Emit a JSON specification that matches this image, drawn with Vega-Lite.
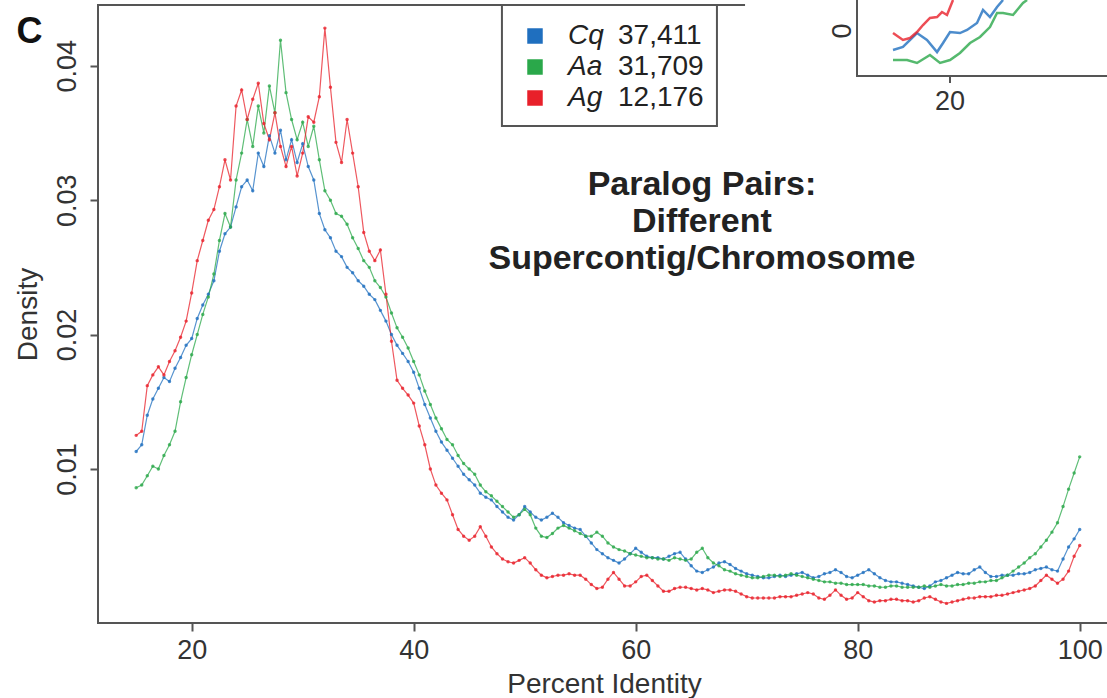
{
"$schema":"https://vega.github.io/schema/vega-lite/v6.json",
"width":1012,"height":618,
"autosize":{"type":"none"},
"padding":{"left":98,"top":5,"right":0,"bottom":75},
"background":"white",
"config":{"view":{"stroke":"#555","strokeWidth":2},"font":"Liberation Sans",
"axis":{"domain":false,"grid":false,"tickColor":"#555","tickWidth":2,"tickSize":8,"labelFont":"Liberation Sans","titleFont":"Liberation Sans","labelFontSize":27,"titleFontSize":28,"labelColor":"#333","titleColor":"#333","titleFontWeight":"normal","labelFlush":false,"labelOverlap":false}},
"datasets":{
"main":[
{"x":15,"Cq":0.0113,"Aa":0.0086,"Ag":0.0125},{"x":15.5,"Cq":0.0118,"Aa":0.0088,"Ag":0.0128},{"x":16,"Cq":0.0140,"Aa":0.0095,"Ag":0.0162},{"x":16.5,"Cq":0.0152,"Aa":0.0102,"Ag":0.0170},{"x":17,"Cq":0.0160,"Aa":0.0100,"Ag":0.0176},{"x":17.5,"Cq":0.0168,"Aa":0.0110,"Ag":0.0170},{"x":18,"Cq":0.0165,"Aa":0.0118,"Ag":0.0180},{"x":18.5,"Cq":0.0175,"Aa":0.0128,"Ag":0.0188},{"x":19,"Cq":0.0183,"Aa":0.0150,"Ag":0.0198},{"x":19.5,"Cq":0.0192,"Aa":0.0168,"Ag":0.0210},
{"x":20,"Cq":0.0197,"Aa":0.0185,"Ag":0.0231},{"x":20.5,"Cq":0.0212,"Aa":0.0200,"Ag":0.0255},{"x":21,"Cq":0.0222,"Aa":0.0215,"Ag":0.0270},{"x":21.5,"Cq":0.0230,"Aa":0.0228,"Ag":0.0285},{"x":22,"Cq":0.0240,"Aa":0.0245,"Ag":0.0293},{"x":22.5,"Cq":0.0262,"Aa":0.0270,"Ag":0.0310},{"x":23,"Cq":0.0275,"Aa":0.0290,"Ag":0.0330},{"x":23.5,"Cq":0.0280,"Aa":0.0280,"Ag":0.0315},{"x":24,"Cq":0.0295,"Aa":0.0315,"Ag":0.0370},{"x":24.5,"Cq":0.0310,"Aa":0.0335,"Ag":0.0382},
{"x":25,"Cq":0.0315,"Aa":0.0360,"Ag":0.0360},{"x":25.5,"Cq":0.0307,"Aa":0.0340,"Ag":0.0375},{"x":26,"Cq":0.0335,"Aa":0.0370,"Ag":0.0387},{"x":26.5,"Cq":0.0325,"Aa":0.0350,"Ag":0.0357},{"x":27,"Cq":0.0348,"Aa":0.0385,"Ag":0.0345},{"x":27.5,"Cq":0.0335,"Aa":0.0365,"Ag":0.0365},{"x":28,"Cq":0.0352,"Aa":0.0419,"Ag":0.0340},{"x":28.5,"Cq":0.0330,"Aa":0.0380,"Ag":0.0325},{"x":29,"Cq":0.0345,"Aa":0.0360,"Ag":0.0340},{"x":29.5,"Cq":0.0328,"Aa":0.0345,"Ag":0.0318},
{"x":30,"Cq":0.0342,"Aa":0.0358,"Ag":0.0335},{"x":30.5,"Cq":0.0325,"Aa":0.0340,"Ag":0.0362},{"x":31,"Cq":0.0315,"Aa":0.0355,"Ag":0.0358},{"x":31.5,"Cq":0.0290,"Aa":0.0330,"Ag":0.0377},{"x":32,"Cq":0.0278,"Aa":0.0307,"Ag":0.0428},{"x":32.5,"Cq":0.0272,"Aa":0.0300,"Ag":0.0384},{"x":33,"Cq":0.0262,"Aa":0.0290,"Ag":0.0343},{"x":33.5,"Cq":0.0258,"Aa":0.0288,"Ag":0.0328},{"x":34,"Cq":0.0250,"Aa":0.0282,"Ag":0.0360},{"x":34.5,"Cq":0.0246,"Aa":0.0272,"Ag":0.0335},
{"x":35,"Cq":0.0240,"Aa":0.0264,"Ag":0.0310},{"x":35.5,"Cq":0.0236,"Aa":0.0255,"Ag":0.0276},{"x":36,"Cq":0.0230,"Aa":0.0250,"Ag":0.0262},{"x":36.5,"Cq":0.0226,"Aa":0.0240,"Ag":0.0255},{"x":37,"Cq":0.0218,"Aa":0.0235,"Ag":0.0263},{"x":37.5,"Cq":0.0210,"Aa":0.0228,"Ag":0.0230},{"x":38,"Cq":0.0200,"Aa":0.0216,"Ag":0.0195},{"x":38.5,"Cq":0.0192,"Aa":0.0205,"Ag":0.0166},{"x":39,"Cq":0.0186,"Aa":0.0198,"Ag":0.0160},{"x":39.5,"Cq":0.0180,"Aa":0.0190,"Ag":0.0155},
{"x":40,"Cq":0.0172,"Aa":0.0180,"Ag":0.0149},{"x":40.5,"Cq":0.0160,"Aa":0.0170,"Ag":0.0132},{"x":41,"Cq":0.0148,"Aa":0.0158,"Ag":0.0118},{"x":41.5,"Cq":0.0138,"Aa":0.0148,"Ag":0.0100},{"x":42,"Cq":0.0128,"Aa":0.0138,"Ag":0.0088},{"x":42.5,"Cq":0.0120,"Aa":0.0130,"Ag":0.0082},{"x":43,"Cq":0.0114,"Aa":0.0122,"Ag":0.0077},{"x":43.5,"Cq":0.0108,"Aa":0.0118,"Ag":0.0066},{"x":44,"Cq":0.0102,"Aa":0.0110,"Ag":0.0055},{"x":44.5,"Cq":0.0096,"Aa":0.0104,"Ag":0.0050},
{"x":45,"Cq":0.0092,"Aa":0.0100,"Ag":0.0047},{"x":45.5,"Cq":0.0088,"Aa":0.0096,"Ag":0.0050},{"x":46,"Cq":0.0082,"Aa":0.0088,"Ag":0.0057},{"x":46.5,"Cq":0.0079,"Aa":0.0083,"Ag":0.0050},{"x":47,"Cq":0.0077,"Aa":0.0080,"Ag":0.0042},{"x":47.5,"Cq":0.0072,"Aa":0.0076,"Ag":0.0037},{"x":48,"Cq":0.0068,"Aa":0.0072,"Ag":0.0033},{"x":48.5,"Cq":0.0064,"Aa":0.0068,"Ag":0.0031},{"x":49,"Cq":0.0062,"Aa":0.0064,"Ag":0.0030},{"x":49.5,"Cq":0.0066,"Aa":0.0066,"Ag":0.0032},
{"x":50,"Cq":0.0072,"Aa":0.0070,"Ag":0.0034},{"x":50.5,"Cq":0.0068,"Aa":0.0066,"Ag":0.0030},{"x":51,"Cq":0.0064,"Aa":0.0056,"Ag":0.0025},{"x":51.5,"Cq":0.0062,"Aa":0.0050,"Ag":0.0021},{"x":52,"Cq":0.0064,"Aa":0.0049,"Ag":0.0019},{"x":52.5,"Cq":0.0067,"Aa":0.0052,"Ag":0.0020},{"x":53,"Cq":0.0064,"Aa":0.0056,"Ag":0.0021},{"x":53.5,"Cq":0.0060,"Aa":0.0058,"Ag":0.0021},{"x":54,"Cq":0.0058,"Aa":0.0056,"Ag":0.0022},{"x":54.5,"Cq":0.0056,"Aa":0.0054,"Ag":0.0021},
{"x":55,"Cq":0.0055,"Aa":0.0052,"Ag":0.0021},{"x":55.5,"Cq":0.0050,"Aa":0.0050,"Ag":0.0018},{"x":56,"Cq":0.0045,"Aa":0.0050,"Ag":0.0014},{"x":56.5,"Cq":0.0040,"Aa":0.0053,"Ag":0.0011},{"x":57,"Cq":0.0037,"Aa":0.0050,"Ag":0.0012},{"x":57.5,"Cq":0.0034,"Aa":0.0045,"Ag":0.0018},{"x":58,"Cq":0.0032,"Aa":0.0042,"Ag":0.0023},{"x":58.5,"Cq":0.0030,"Aa":0.0040,"Ag":0.0018},{"x":59,"Cq":0.0033,"Aa":0.0039,"Ag":0.0013},{"x":59.5,"Cq":0.0037,"Aa":0.0037,"Ag":0.0013},
{"x":60,"Cq":0.0041,"Aa":0.0036,"Ag":0.0016},{"x":60.5,"Cq":0.0038,"Aa":0.0035,"Ag":0.0020},{"x":61,"Cq":0.0035,"Aa":0.0034,"Ag":0.0021},{"x":61.5,"Cq":0.0034,"Aa":0.0034,"Ag":0.0017},{"x":62,"Cq":0.0034,"Aa":0.0033,"Ag":0.0013},{"x":62.5,"Cq":0.0033,"Aa":0.0033,"Ag":0.0009},{"x":63,"Cq":0.0035,"Aa":0.0032,"Ag":0.0009},{"x":63.5,"Cq":0.0037,"Aa":0.0034,"Ag":0.0011},{"x":64,"Cq":0.0038,"Aa":0.0033,"Ag":0.0012},{"x":64.5,"Cq":0.0033,"Aa":0.0032,"Ag":0.0012},
{"x":65,"Cq":0.0028,"Aa":0.0033,"Ag":0.0011},{"x":65.5,"Cq":0.0024,"Aa":0.0038,"Ag":0.0010},{"x":66,"Cq":0.0023,"Aa":0.0041,"Ag":0.0011},{"x":66.5,"Cq":0.0025,"Aa":0.0034,"Ag":0.0010},{"x":67,"Cq":0.0027,"Aa":0.0030,"Ag":0.0008},{"x":67.5,"Cq":0.0030,"Aa":0.0028,"Ag":0.0009},{"x":68,"Cq":0.0031,"Aa":0.0025,"Ag":0.0010},{"x":68.5,"Cq":0.0029,"Aa":0.0024,"Ag":0.0010},{"x":69,"Cq":0.0026,"Aa":0.0022,"Ag":0.0009},{"x":69.5,"Cq":0.0024,"Aa":0.0021,"Ag":0.0007},
{"x":70,"Cq":0.0022,"Aa":0.0020,"Ag":0.0005},{"x":70.5,"Cq":0.0021,"Aa":0.0019,"Ag":0.0004},{"x":71,"Cq":0.0020,"Aa":0.0019,"Ag":0.0004},{"x":71.5,"Cq":0.0019,"Aa":0.0020,"Ag":0.0004},{"x":72,"Cq":0.0019,"Aa":0.0021,"Ag":0.0004},{"x":72.5,"Cq":0.0020,"Aa":0.0021,"Ag":0.0004},{"x":73,"Cq":0.0021,"Aa":0.0020,"Ag":0.0005},{"x":73.5,"Cq":0.0020,"Aa":0.0021,"Ag":0.0005},{"x":74,"Cq":0.0021,"Aa":0.0022,"Ag":0.0005},{"x":74.5,"Cq":0.0022,"Aa":0.0021,"Ag":0.0006},
{"x":75,"Cq":0.0023,"Aa":0.0020,"Ag":0.0007},{"x":75.5,"Cq":0.0021,"Aa":0.0019,"Ag":0.0008},{"x":76,"Cq":0.0019,"Aa":0.0018,"Ag":0.0007},{"x":76.5,"Cq":0.0020,"Aa":0.0017,"Ag":0.0004},{"x":77,"Cq":0.0022,"Aa":0.0016,"Ag":0.0003},{"x":77.5,"Cq":0.0023,"Aa":0.0016,"Ag":0.0006},{"x":78,"Cq":0.0025,"Aa":0.0015,"Ag":0.0010},{"x":78.5,"Cq":0.0023,"Aa":0.0015,"Ag":0.0006},{"x":79,"Cq":0.0020,"Aa":0.0014,"Ag":0.0003},{"x":79.5,"Cq":0.0019,"Aa":0.0014,"Ag":0.0004},
{"x":80,"Cq":0.0021,"Aa":0.0014,"Ag":0.0008},{"x":80.5,"Cq":0.0023,"Aa":0.0014,"Ag":0.0005},{"x":81,"Cq":0.0025,"Aa":0.0013,"Ag":0.0002},{"x":81.5,"Cq":0.0022,"Aa":0.0013,"Ag":0.0001},{"x":82,"Cq":0.0019,"Aa":0.0012,"Ag":0.0002},{"x":82.5,"Cq":0.0017,"Aa":0.0012,"Ag":0.0002},{"x":83,"Cq":0.0016,"Aa":0.0013,"Ag":0.0003},{"x":83.5,"Cq":0.0016,"Aa":0.0013,"Ag":0.0003},{"x":84,"Cq":0.0015,"Aa":0.0012,"Ag":0.0002},{"x":84.5,"Cq":0.0014,"Aa":0.0012,"Ag":0.0002},
{"x":85,"Cq":0.0013,"Aa":0.0012,"Ag":0.0001},{"x":85.5,"Cq":0.0012,"Aa":0.0012,"Ag":0.0002},{"x":86,"Cq":0.0011,"Aa":0.0013,"Ag":0.0004},{"x":86.5,"Cq":0.0013,"Aa":0.0012,"Ag":0.0005},{"x":87,"Cq":0.0016,"Aa":0.0013,"Ag":0.0003},{"x":87.5,"Cq":0.0017,"Aa":0.0014,"Ag":0.0001},{"x":88,"Cq":0.0019,"Aa":0.0013,"Ag":0.0000},{"x":88.5,"Cq":0.0021,"Aa":0.0013,"Ag":0.0001},{"x":89,"Cq":0.0023,"Aa":0.0014,"Ag":0.0002},{"x":89.5,"Cq":0.0022,"Aa":0.0014,"Ag":0.0003},
{"x":90,"Cq":0.0022,"Aa":0.0015,"Ag":0.0004},{"x":90.5,"Cq":0.0025,"Aa":0.0015,"Ag":0.0004},{"x":91,"Cq":0.0027,"Aa":0.0016,"Ag":0.0005},{"x":91.5,"Cq":0.0023,"Aa":0.0016,"Ag":0.0005},{"x":92,"Cq":0.0020,"Aa":0.0017,"Ag":0.0005},{"x":92.5,"Cq":0.0020,"Aa":0.0017,"Ag":0.0006},{"x":93,"Cq":0.0021,"Aa":0.0019,"Ag":0.0006},{"x":93.5,"Cq":0.0021,"Aa":0.0021,"Ag":0.0007},{"x":94,"Cq":0.0021,"Aa":0.0024,"Ag":0.0008},{"x":94.5,"Cq":0.0022,"Aa":0.0027,"Ag":0.0009},
{"x":95,"Cq":0.0022,"Aa":0.0030,"Ag":0.0010},{"x":95.5,"Cq":0.0023,"Aa":0.0034,"Ag":0.0011},{"x":96,"Cq":0.0025,"Aa":0.0037,"Ag":0.0013},{"x":96.5,"Cq":0.0026,"Aa":0.0042,"Ag":0.0017},{"x":97,"Cq":0.0027,"Aa":0.0047,"Ag":0.0021},{"x":97.5,"Cq":0.0025,"Aa":0.0053,"Ag":0.0018},{"x":98,"Cq":0.0024,"Aa":0.0060,"Ag":0.0015},{"x":98.5,"Cq":0.0033,"Aa":0.0072,"Ag":0.0018},{"x":99,"Cq":0.0042,"Aa":0.0085,"Ag":0.0024},{"x":99.5,"Cq":0.0048,"Aa":0.0097,"Ag":0.0035},
{"x":100,"Cq":0.0055,"Aa":0.0109,"Ag":0.0043}
],
"counts":[{"sp":"Cq","n":"37,411"},{"sp":"Aa","n":"31,709"},{"sp":"Ag","n":"12,176"}],
"inset":[
{"sp":"Ag","x":15.25,"y":0.01281},{"sp":"Ag","x":16.08,"y":0.01172},{"sp":"Ag","x":16.67,"y":0.01203},{"sp":"Ag","x":17.25,"y":0.01297},{"sp":"Ag","x":17.75,"y":0.01406},{"sp":"Ag","x":18.33,"y":0.01516},{"sp":"Ag","x":18.92,"y":0.01531},{"sp":"Ag","x":19.33,"y":0.01609},{"sp":"Ag","x":19.75,"y":0.01563},{"sp":"Ag","x":20.25,"y":0.01797},
{"sp":"Cq","x":15.25,"y":0.01016},{"sp":"Cq","x":16.08,"y":0.01063},{"sp":"Cq","x":17.25,"y":0.01281},{"sp":"Cq","x":18.08,"y":0.01172},{"sp":"Cq","x":18.92,"y":0.00984},{"sp":"Cq","x":19.42,"y":0.01125},{"sp":"Cq","x":20,"y":0.01297},{"sp":"Cq","x":20.83,"y":0.01281},{"sp":"Cq","x":21.42,"y":0.01328},{"sp":"Cq","x":22.25,"y":0.01438},{"sp":"Cq","x":22.75,"y":0.01641},{"sp":"Cq","x":23.33,"y":0.01531},{"sp":"Cq","x":23.92,"y":0.01688},{"sp":"Cq","x":24.42,"y":0.01797},
{"sp":"Aa","x":15.25,"y":0.00859},{"sp":"Aa","x":16.42,"y":0.00859},{"sp":"Aa","x":17.25,"y":0.00813},{"sp":"Aa","x":18.33,"y":0.00938},{"sp":"Aa","x":19.17,"y":0.00813},{"sp":"Aa","x":20,"y":0.00859},{"sp":"Aa","x":20.83,"y":0.00969},{"sp":"Aa","x":21.67,"y":0.01125},{"sp":"Aa","x":22.5,"y":0.01219},{"sp":"Aa","x":23.33,"y":0.01375},{"sp":"Aa","x":23.92,"y":0.01594},{"sp":"Aa","x":24.42,"y":0.01594},{"sp":"Aa","x":25.25,"y":0.01563},{"sp":"Aa","x":26.08,"y":0.0175},{"sp":"Aa","x":26.42,"y":0.01797}
]
},
"layer":[
{"layer":[
 {"data":{"name":"main"},
  "transform":[{"fold":["Cq","Aa","Ag"],"as":["sp","d"]},{"lookup":"sp","from":{"data":{"name":"counts"},"key":"sp","fields":["n"]}}],
  "encoding":{
   "x":{"field":"x","type":"quantitative","scale":{"domain":[11.56,102.73],"nice":false,"zero":false},"axis":{"title":"Percent Identity","values":[20,40,60,80,100],"labelPadding":6,"titlePadding":7}},
   "y":{"field":"d","type":"quantitative","scale":{"domain":[-0.00146,0.04452],"nice":false,"zero":false},"axis":{"title":"Density","values":[0.01,0.02,0.03,0.04],"format":".2f","labelAngle":270,"labelAlign":"center","labelBaseline":"bottom","labelPadding":9,"titlePadding":11}},
   "color":{"field":"sp","type":"nominal","scale":{"domain":["Cq","Aa","Ag"],"range":["#1f6fbf","#2aa84a","#e8202a"]},
     "legend":{"orient":"none","legendX":423,"legendY":17,"title":null,"padding":0,"symbolType":"square","symbolSize":240,"symbolStrokeWidth":0,"symbolOpacity":1,"labelFont":"Liberation Sans","labelFontSize":28,"labelFontStyle":"italic","labelColor":"#222","labelOffset":19,"rowPadding":3,
       "encode":{"symbols":{"update":{"fill":{"scale":"color","field":"value"},"stroke":{"value":"transparent"},"opacity":{"value":1}}}}}}
  },
  "layer":[
   {"mark":{"type":"line","strokeWidth":1.2,"opacity":0.75}},
   {"mark":{"type":"point","filled":true,"size":12,"opacity":0.8},
    "encoding":{"shape":{"field":"n","type":"nominal","scale":{"domain":["37,411","31,709","12,176"],"range":["circle","circle","circle"]},
      "legend":{"orient":"none","legendX":492,"legendY":17,"title":null,"padding":0,"symbolSize":1,"symbolOpacity":0,"labelOffset":0,"labelFont":"Liberation Sans","labelFontSize":28,"labelColor":"#222","rowPadding":3}}}}
  ]
 },
 {"data":{"values":[{}]},
  "mark":{"type":"rect","fill":"white","stroke":"#555","strokeWidth":2},
  "encoding":{"x":{"datum":47.95,"type":"quantitative","scale":{"domain":[11.56,102.73],"nice":false,"zero":false}},"x2":{"datum":67.32},
   "y":{"datum":0.03552,"type":"quantitative","scale":{"domain":[-0.00146,0.04452],"nice":false,"zero":false}},"y2":{"datum":0.04452}}},
 {"data":{"values":[{}]},
  "mark":{"type":"text","text":["Paralog Pairs:","Different","Supercontig/Chromosome"],"font":"Liberation Sans","fontWeight":"bold","fontSize":34,"lineHeight":37,"align":"center","baseline":"middle","color":"#222"},
  "encoding":{"x":{"datum":65.97,"type":"quantitative","scale":{"domain":[11.56,102.73],"nice":false,"zero":false}},
   "y":{"datum":0.03113,"type":"quantitative","scale":{"domain":[-0.00146,0.04452],"nice":false,"zero":false}}}},
 {"data":{"values":[{}]},
  "mark":{"type":"text","text":"C","font":"Liberation Sans","fontWeight":"bold","fontSize":36,"align":"center","baseline":"middle","color":"#111"},
  "encoding":{"x":{"datum":5.4,"type":"quantitative","scale":{"domain":[11.56,102.73],"nice":false,"zero":false}},
   "y":{"datum":0.0425,"type":"quantitative","scale":{"domain":[-0.00146,0.04452],"nice":false,"zero":false}}}}
]},
{"layer":[
 {"data":{"values":[{}]},
  "mark":{"type":"rect","fill":"white"},
  "encoding":{"x":{"datum":2.92,"type":"quantitative","scale":{"domain":[-51,33.333],"nice":false,"zero":false},"axis":null},"x2":{"datum":40},
   "y":{"datum":0.00391,"type":"quantitative","scale":{"domain":[-0.07937,0.01719],"nice":false,"zero":false},"axis":null},"y2":{"datum":0.0195}}},
 {"data":{"values":[{}]},
  "mark":{"type":"rect","fill":"white","stroke":"#555","strokeWidth":2},
  "encoding":{"x":{"datum":12.25,"type":"quantitative","scale":{"domain":[-51,33.333],"nice":false,"zero":false},"axis":null},"x2":{"datum":40},
   "y":{"datum":0.0061,"type":"quantitative","scale":{"domain":[-0.07937,0.01719],"nice":false,"zero":false},"axis":null},"y2":{"datum":0.0195}}},
 {"data":{"name":"inset"},"transform":[{"filter":"datum.sp == 'Aa'"}],
  "mark":{"type":"line","strokeWidth":2.5,"opacity":0.8,"color":"#2aa84a"},
  "encoding":{"x":{"field":"x","type":"quantitative","scale":{"domain":[-51,33.333],"nice":false,"zero":false},"axis":null},
   "y":{"field":"y","type":"quantitative","scale":{"domain":[-0.07937,0.01719],"nice":false,"zero":false},"axis":null}}},
 {"data":{"name":"inset"},"transform":[{"filter":"datum.sp == 'Cq'"}],
  "mark":{"type":"line","strokeWidth":2.5,"opacity":0.8,"color":"#1f6fbf"},
  "encoding":{"x":{"field":"x","type":"quantitative","scale":{"domain":[-51,33.333],"nice":false,"zero":false},"axis":null},
   "y":{"field":"y","type":"quantitative","scale":{"domain":[-0.07937,0.01719],"nice":false,"zero":false},"axis":null}}},
 {"data":{"name":"inset"},"transform":[{"filter":"datum.sp == 'Ag'"}],
  "mark":{"type":"line","strokeWidth":2.5,"opacity":0.8,"color":"#e8202a"},
  "encoding":{"x":{"field":"x","type":"quantitative","scale":{"domain":[-51,33.333],"nice":false,"zero":false},"axis":null},
   "y":{"field":"y","type":"quantitative","scale":{"domain":[-0.07937,0.01719],"nice":false,"zero":false},"axis":null}}},
 {"data":{"values":[{}]},
  "mark":{"type":"rule","stroke":"#555","strokeWidth":2},
  "encoding":{"x":{"datum":20,"type":"quantitative","scale":{"domain":[-51,33.333],"nice":false,"zero":false},"axis":null},
   "y":{"datum":0.0061,"type":"quantitative","scale":{"domain":[-0.07937,0.01719],"nice":false,"zero":false},"axis":null},"y2":{"datum":0.0050}}},
 {"data":{"values":[{}]},
  "mark":{"type":"text","text":"20","font":"Liberation Sans","fontSize":27,"align":"center","baseline":"middle","color":"#333"},
  "encoding":{"x":{"datum":20,"type":"quantitative","scale":{"domain":[-51,33.333],"nice":false,"zero":false},"axis":null},
   "y":{"datum":0.00203,"type":"quantitative","scale":{"domain":[-0.07937,0.01719],"nice":false,"zero":false},"axis":null}}},
 {"data":{"values":[{}]},
  "mark":{"type":"text","text":"0","font":"Liberation Sans","fontSize":27,"align":"center","baseline":"bottom","angle":270,"color":"#333"},
  "encoding":{"x":{"datum":12.25,"type":"quantitative","scale":{"domain":[-51,33.333],"nice":false,"zero":false},"axis":null},
   "y":{"datum":0.01313,"type":"quantitative","scale":{"domain":[-0.07937,0.01719],"nice":false,"zero":false},"axis":null}}}
]}
],
"resolve":{"scale":{"x":"independent","y":"independent"}}
}
